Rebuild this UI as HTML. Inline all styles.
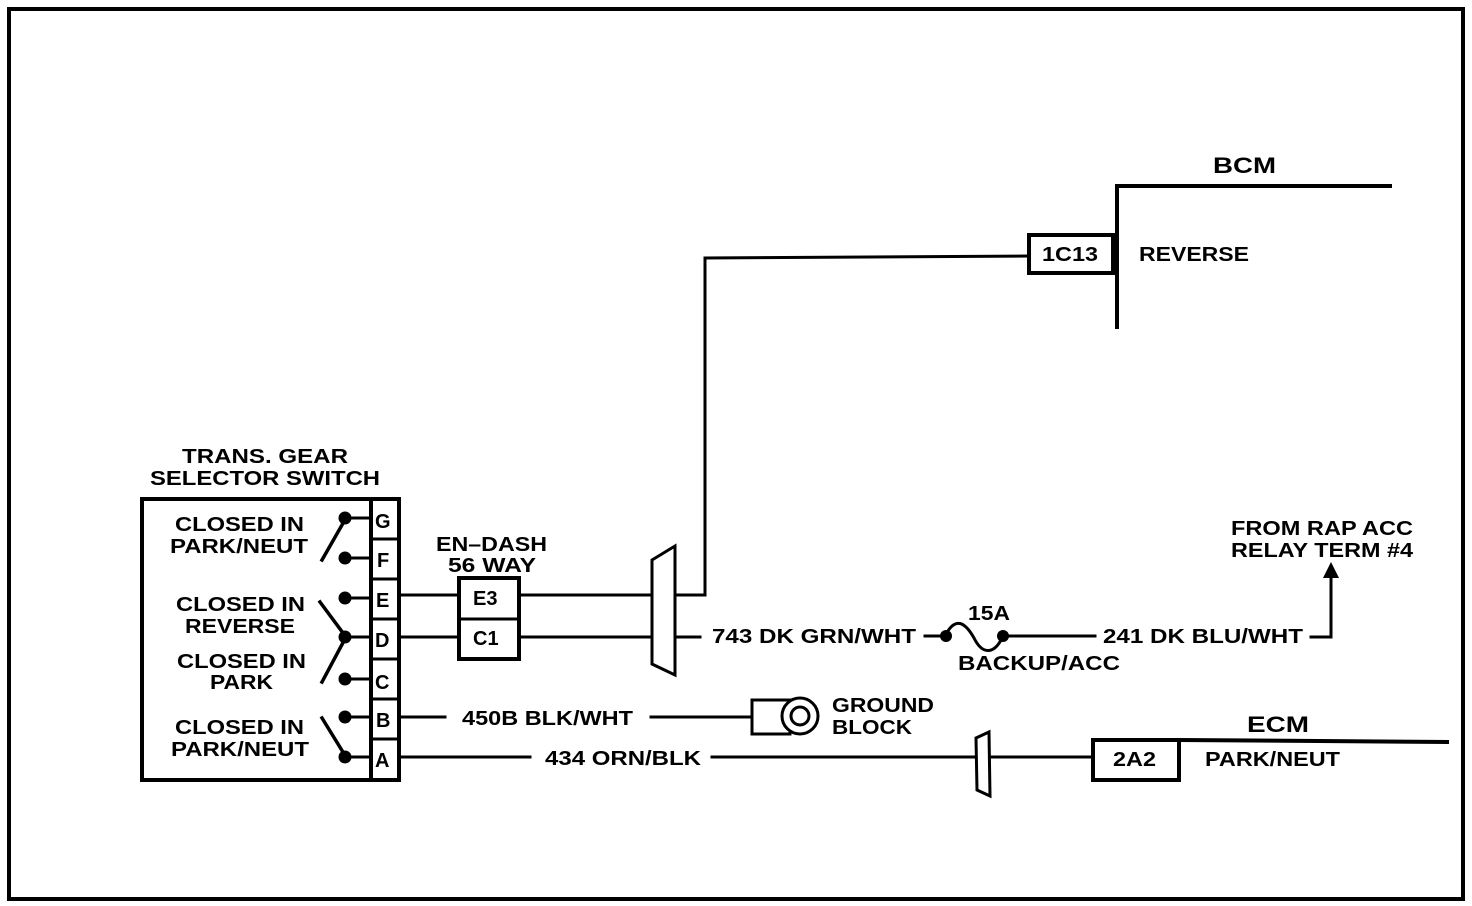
<!DOCTYPE html>
<html><head><meta charset="utf-8"><style>
html,body{margin:0;padding:0;background:#fff;}
svg{display:block;}
text{font-family:"Liberation Sans",sans-serif;font-weight:bold;font-size:20px;fill:#000;}
</style></head><body>
<svg width="1472" height="906" viewBox="0 0 1472 906" xmlns="http://www.w3.org/2000/svg">
<g fill="none" stroke="#000" stroke-linecap="square">
<rect x="9" y="9" width="1454" height="890" stroke-width="4"/>
<rect x="142" y="499" width="257" height="281" stroke-width="4"/>
<line x1="371" y1="499" x2="371" y2="780" stroke-width="4"/>
<g stroke-width="3">
<line x1="371" y1="539" x2="399" y2="539"/>
<line x1="371" y1="579" x2="399" y2="579"/>
<line x1="371" y1="619" x2="399" y2="619"/>
<line x1="371" y1="659" x2="399" y2="659"/>
<line x1="371" y1="699" x2="399" y2="699"/>
<line x1="371" y1="739" x2="399" y2="739"/>
</g>
<g stroke-width="3">
<line x1="346" y1="518" x2="371" y2="518"/>
<line x1="346" y1="558" x2="371" y2="558"/>
<line x1="346" y1="598" x2="371" y2="598"/>
<line x1="346" y1="637" x2="371" y2="637"/>
<line x1="346" y1="679" x2="371" y2="679"/>
<line x1="346" y1="717" x2="371" y2="717"/>
<line x1="346" y1="757" x2="371" y2="757"/>
</g>
<g stroke-width="3.5">
<line x1="346" y1="518" x2="322" y2="560"/>
<line x1="320" y1="602" x2="346" y2="637"/>
<line x1="346" y1="637" x2="322" y2="682"/>
<line x1="322" y1="718" x2="346" y2="757"/>
</g>
<rect x="459" y="578" width="60" height="81" stroke-width="4"/>
<line x1="459" y1="619" x2="519" y2="619" stroke-width="3"/>
<g stroke-width="3">
<line x1="399" y1="595" x2="459" y2="595"/>
<line x1="519" y1="595" x2="652" y2="595"/>
<line x1="399" y1="637" x2="459" y2="637"/>
<line x1="519" y1="637" x2="652" y2="637"/>
<polyline points="676,595 705,595 705,258 1028,256"/>
<line x1="676" y1="637" x2="700" y2="637"/>
<line x1="925" y1="636" x2="945" y2="636"/>
<line x1="1003" y1="636" x2="1095" y2="636"/>
<polyline points="1311,637 1331,637 1331,578"/>
<line x1="399" y1="717" x2="445" y2="717"/>
<line x1="651" y1="717" x2="752" y2="717"/>
<line x1="399" y1="757" x2="530" y2="757"/>
<line x1="712" y1="757" x2="975" y2="757"/>
<line x1="990" y1="757" x2="1093" y2="757"/>
</g>
<polygon points="652,560 675,546 675,675 652,664" stroke-width="3"/>
<polygon points="976,738 989,732 990,796 977,790" stroke-width="3"/>
<path d="M945,636 C955,616 965,622 974,638 C983,656 995,654 1003,636" stroke-width="3"/>
<rect x="1029" y="235" width="84" height="38" stroke-width="4"/>
<polyline points="1390,186 1117,186 1117,327" stroke-width="4"/>
<rect x="1093" y="740" width="86" height="40" stroke-width="4"/>
<line x1="1179" y1="740" x2="1447" y2="742" stroke-width="4"/>
<rect x="752" y="700" width="38" height="34" stroke-width="3"/>
<circle cx="800" cy="716" r="18" stroke-width="3" fill="#fff"/>
<circle cx="800" cy="716" r="9" stroke-width="3"/>
</g>
<g fill="#000">
<circle cx="345" cy="518" r="6.5"/><circle cx="345" cy="558" r="6.5"/>
<circle cx="345" cy="598" r="6.5"/><circle cx="345" cy="637" r="6.5"/>
<circle cx="345" cy="679" r="6.5"/><circle cx="345" cy="717" r="6.5"/>
<circle cx="345" cy="757" r="6.5"/>
<circle cx="946" cy="636" r="6"/><circle cx="1003" cy="636" r="6"/>
<polygon points="1331,562 1323,578 1339,578"/>
</g>
<text x="182" y="463" textLength="166" lengthAdjust="spacingAndGlyphs">TRANS. GEAR</text>
<text x="150" y="485" textLength="230" lengthAdjust="spacingAndGlyphs">SELECTOR SWITCH</text>
<text x="175" y="531" textLength="129" lengthAdjust="spacingAndGlyphs">CLOSED IN</text>
<text x="170" y="553" textLength="138" lengthAdjust="spacingAndGlyphs">PARK/NEUT</text>
<text x="176" y="611" textLength="129" lengthAdjust="spacingAndGlyphs">CLOSED IN</text>
<text x="185" y="633" textLength="110" lengthAdjust="spacingAndGlyphs">REVERSE</text>
<text x="177" y="668" textLength="129" lengthAdjust="spacingAndGlyphs">CLOSED IN</text>
<text x="210" y="689" textLength="63" lengthAdjust="spacingAndGlyphs">PARK</text>
<text x="175" y="734" textLength="129" lengthAdjust="spacingAndGlyphs">CLOSED IN</text>
<text x="171" y="756" textLength="138" lengthAdjust="spacingAndGlyphs">PARK/NEUT</text>
<g style="font-size:22px">
<text x="375" y="528">G</text><text x="377" y="567">F</text>
<text x="376" y="607">E</text><text x="375" y="647">D</text>
<text x="375" y="689">C</text><text x="376" y="727">B</text>
<text x="375" y="767">A</text>
</g>
<text x="436" y="551" textLength="111" lengthAdjust="spacingAndGlyphs">EN–DASH</text>
<text x="448" y="572" textLength="88" lengthAdjust="spacingAndGlyphs">56 WAY</text>
<text x="473" y="605">E3</text>
<text x="473" y="645">C1</text>
<text x="1042" y="261" textLength="56" lengthAdjust="spacingAndGlyphs">1C13</text>
<text x="1139" y="261" textLength="110" lengthAdjust="spacingAndGlyphs">REVERSE</text>
<text x="1213" y="173" textLength="63" lengthAdjust="spacingAndGlyphs" style="font-size:22px">BCM</text>
<text x="712" y="643" textLength="204" lengthAdjust="spacingAndGlyphs">743 DK GRN/WHT</text>
<text x="968" y="620" textLength="42" lengthAdjust="spacingAndGlyphs">15A</text>
<text x="958" y="670" textLength="162" lengthAdjust="spacingAndGlyphs">BACKUP/ACC</text>
<text x="1103" y="643" textLength="200" lengthAdjust="spacingAndGlyphs">241 DK BLU/WHT</text>
<text x="1231" y="535" textLength="182" lengthAdjust="spacingAndGlyphs">FROM RAP ACC</text>
<text x="1231" y="557" textLength="182" lengthAdjust="spacingAndGlyphs">RELAY TERM #4</text>
<text x="462" y="725" textLength="171" lengthAdjust="spacingAndGlyphs">450B BLK/WHT</text>
<text x="832" y="712" textLength="102" lengthAdjust="spacingAndGlyphs">GROUND</text>
<text x="832" y="734" textLength="80" lengthAdjust="spacingAndGlyphs">BLOCK</text>
<text x="545" y="765" textLength="156" lengthAdjust="spacingAndGlyphs">434 ORN/BLK</text>
<text x="1247" y="732" textLength="62" lengthAdjust="spacingAndGlyphs" style="font-size:22px">ECM</text>
<text x="1113" y="766" textLength="43" lengthAdjust="spacingAndGlyphs">2A2</text>
<text x="1205" y="766" textLength="135" lengthAdjust="spacingAndGlyphs">PARK/NEUT</text>
</svg>
</body></html>
